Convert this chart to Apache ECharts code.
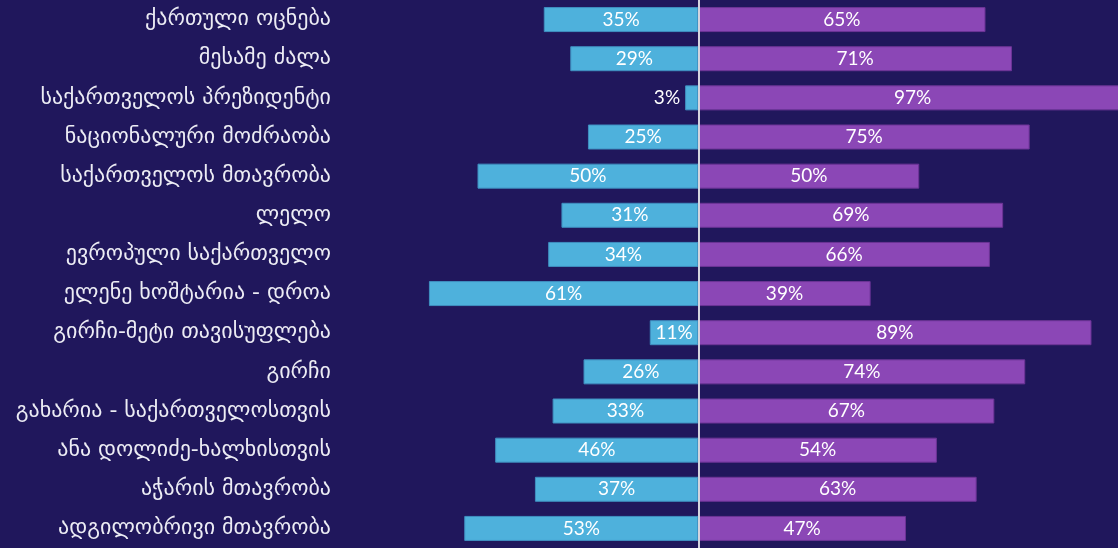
<!DOCTYPE html>
<html>
<head>
<meta charset="utf-8">
<script src="https://cdn.jsdelivr.net/npm/echarts@6/dist/echarts.min.js"></script>
<style>
  html, body { margin: 0; padding: 0; background: #20175c; }
  #chart { width: 1118px; height: 548px; }
</style>
</head>
<body>
<div id="chart"></div>
<script>
const categories = [
  'ქართული ოცნება',
  'მესამე ძალა',
  'საქართველოს პრეზიდენტი',
  'ნაციონალური მოძრაობა',
  'საქართველოს მთავრობა',
  'ლელო',
  'ევროპული საქართველო',
  'ელენე ხოშტარია - დროა',
  'გირჩი-მეტი თავისუფლება',
  'გირჩი',
  'გახარია - საქართველოსთვის',
  'ანა დოლიძე-ხალხისთვის',
  'აჭარის მთავრობა',
  'ადგილობრივი მთავრობა'
]
const leftValues = [35, 29, 3, 25, 50, 31, 34, 61, 11, 26, 33, 46, 37, 53]
const rightValues = [65, 71, 97, 75, 50, 69, 66, 39, 89, 74, 67, 54, 63, 47]

const chart = echarts.init(document.getElementById('chart'))

const labelFont = {
  color: '#ffffff',
  fontFamily: 'Lato',
  fontSize: 19
}

const leftData = leftValues.map(v => {
  const item = { value: -v }
  if (v < 5) {
    item.label = { position: 'left', distance: 5 }
  }
  return item
})

const option = {
  backgroundColor: '#20175c',
  animation: false,
  grid: {
    left: 345,
    right: 0,
    top: -1,
    bottom: -3,
    containLabel: false
  },
  xAxis: {
    type: 'value',
    min: -80,
    max: 95,
    show: false
  },
  yAxis: {
    type: 'category',
    inverse: true,
    data: categories,
    axisLine: { show: false },
    axisTick: { show: false },
    splitLine: { show: false },
    axisLabel: {
      color: '#ececf4',
      fontFamily: 'DejaVu Sans',
      fontSize: 22,
      margin: 14
    }
  },
  series: [
    {
      name: 'left',
      type: 'bar',
      stack: 'total',
      barWidth: 25,
      clip: false,
      data: leftData,
      itemStyle: {
        color: '#4eb1dc',
        borderColor: '#3f8fc0',
        borderWidth: 1
      },
      label: {
        show: true,
        position: 'inside',
        formatter: p => Math.abs(p.value) + '%',
        ...labelFont
      },
      markLine: {
        silent: true,
        symbol: 'none',
        label: { show: false },
        lineStyle: { color: '#d4d4de', width: 2, type: 'solid' },
        data: [{ xAxis: 0 }]
      }
    },
    {
      name: 'right',
      type: 'bar',
      stack: 'total',
      barWidth: 25,
      clip: false,
      data: rightValues,
      itemStyle: {
        color: '#8b47b6',
        borderColor: '#6c3496',
        borderWidth: 1
      },
      label: {
        show: true,
        position: 'inside',
        formatter: p => p.value + '%',
        ...labelFont
      }
    }
  ]
}

chart.setOption(option)
</script>
</body>
</html>
